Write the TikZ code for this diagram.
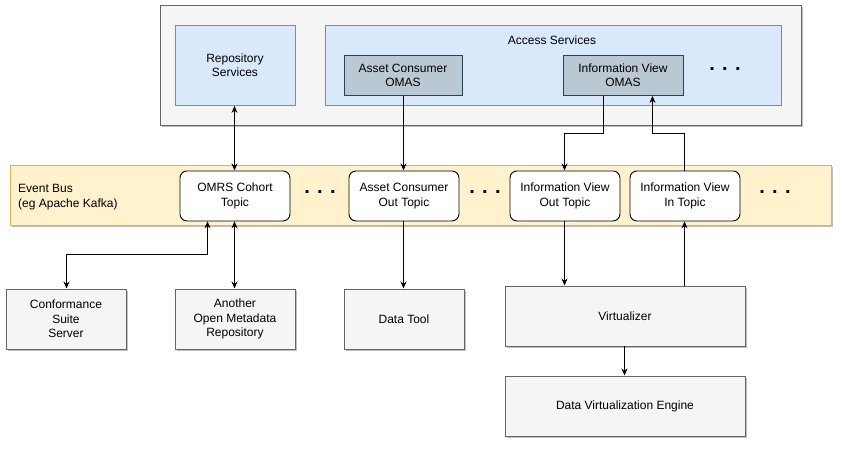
\documentclass[tikz,border=0pt]{standalone}
\usepackage{fontspec}
\setmainfont{Liberation Sans}
\usetikzlibrary{arrows.meta,shadows}
\definecolor{greyfill}{HTML}{F5F5F5}
\definecolor{greyline}{HTML}{666666}
\definecolor{bluefill}{HTML}{DAE8FC}
\definecolor{blueline}{HTML}{6C8EBF}
\definecolor{omasfill}{HTML}{BAC8D3}
\definecolor{omasline}{HTML}{23445D}
\definecolor{busfill}{HTML}{FFF2CC}
\definecolor{busline}{HTML}{D6B656}
\tikzset{
  x=1pt,y=-1pt,
  every node/.style={font=\fontsize{12}{14.5}\selectfont, align=center, inner sep=0pt},
  shad/.style={drop shadow={shadow xshift=2pt,shadow yshift=-2pt,opacity=0.25,fill=black}},
  greybox/.style={draw=greyline, fill=greyfill, shad, line width=0.9pt},
  bluebox/.style={draw=blueline, fill=bluefill, line width=0.9pt},
  omasbox/.style={draw=omasline, fill=omasfill, line width=0.9pt},
  busbox/.style={draw=busline, fill=busfill, shad, line width=0.9pt},
  topicbox/.style={draw=black, fill=white, rounded corners=7pt, line width=0.9pt},
  conn/.style={draw=black, line width=0.9pt, -{Stealth[length=7pt,width=6pt]}},
  dconn/.style={draw=black, line width=0.9pt, {Stealth[length=7pt,width=6pt]}-{Stealth[length=7pt,width=6pt]}},
  dots/.style={font=\fontsize{20}{20}\selectfont\bfseries},
}
\begin{document}
\begin{tikzpicture}
\useasboundingbox (0,0) rectangle (846,452);
% outer servers box
\node[greybox, minimum width=641pt, minimum height=120pt, anchor=north west] (outer) at (159.5,5) {};
\node[bluebox, minimum width=120pt, minimum height=80pt, anchor=north west] (repo) at (174.5,25) {Repository\\Services};
\node[bluebox, minimum width=456pt, minimum height=80pt, anchor=north west] (access) at (324.5,25) {};
\node (accesslbl) at (552,40) {Access Services};
\node[omasbox, minimum width=118pt, minimum height=40pt, anchor=north west] (acomas) at (343.5,55) {Asset Consumer\\OMAS};
\node[omasbox, minimum width=120pt, minimum height=40pt, anchor=north west] (ivomas) at (562.5,55) {Information View\\OMAS};
\node[dots] (dots1) at (725,69) {. . .};
% event bus
\node[busbox, minimum width=821pt, minimum height=60pt, anchor=north west] (bus) at (9.5,165) {};
\node[align=left, anchor=west] (buslbl) at (18,197) {Event Bus\\(eg Apache Kafka)};
\node[topicbox, minimum width=110pt, minimum height=50pt, anchor=north west] (omrs) at (179.5,170.5) {OMRS Cohort\\Topic};
\node[topicbox, minimum width=110pt, minimum height=50pt, anchor=north west] (acout) at (348.5,170.5) {Asset Consumer\\Out Topic};
\node[topicbox, minimum width=110pt, minimum height=50pt, anchor=north west] (ivout) at (509.5,170.5) {Information View\\Out Topic};
\node[topicbox, minimum width=110pt, minimum height=50pt, anchor=north west] (ivin) at (629.5,170.5) {Information View\\In Topic};
\node[dots] (dots2) at (320,192) {. . .};
\node[dots] (dots3) at (485,192) {. . .};
\node[dots] (dots4) at (775,192) {. . .};
% bottom boxes
\node[greybox, minimum width=120pt, minimum height=60pt, anchor=north west] (conf) at (5.5,288.5) {Conformance\\Suite\\Server};
\node[greybox, minimum width=120pt, minimum height=60pt, anchor=north west] (another) at (174.5,288.5) {Another\\Open Metadata\\Repository};
\node[greybox, minimum width=120pt, minimum height=60pt, anchor=north west] (datatool) at (343.5,288.5) {Data Tool};
\node[greybox, minimum width=240pt, minimum height=60pt, anchor=north west] (virt) at (504.5,285.5) {Virtualizer};
\node[greybox, minimum width=240pt, minimum height=60pt, anchor=north west] (dve) at (504.5,375.5) {Data Virtualization Engine};
% connectors
\draw[dconn] (repo.south -| 234.5,0) -- (omrs.north -| 234.5,0);
\draw[conn] (acomas.south -| 403.5,0) -- (acout.north -| 403.5,0);
\draw[conn] (ivomas.south -| 603.5,0) -- (603.5,133.5) -- (564.5,133.5) -- (ivout.north -| 564.5,0);
\draw[conn] (ivin.north -| 684.5,0) -- (684.5,133.5) -- (652.5,133.5) -- (ivomas.south -| 652.5,0);
\draw[dconn] (omrs.south -| 207.5,0) -- (207.5,254.5) -- (66.5,254.5) -- (conf.north -| 66.5,0);
\draw[dconn] (omrs.south -| 234.5,0) -- (another.north -| 234.5,0);
\draw[conn] (acout.south -| 403.5,0) -- (datatool.north -| 403.5,0);
\draw[conn] (ivout.south -| 564.5,0) -- (virt.north -| 564.5,0);
\draw[conn] (virt.north -| 684.5,0) -- (ivin.south -| 684.5,0);
\draw[conn] (virt.south -| 624.5,0) -- (dve.north -| 624.5,0);
\end{tikzpicture}
\end{document}
